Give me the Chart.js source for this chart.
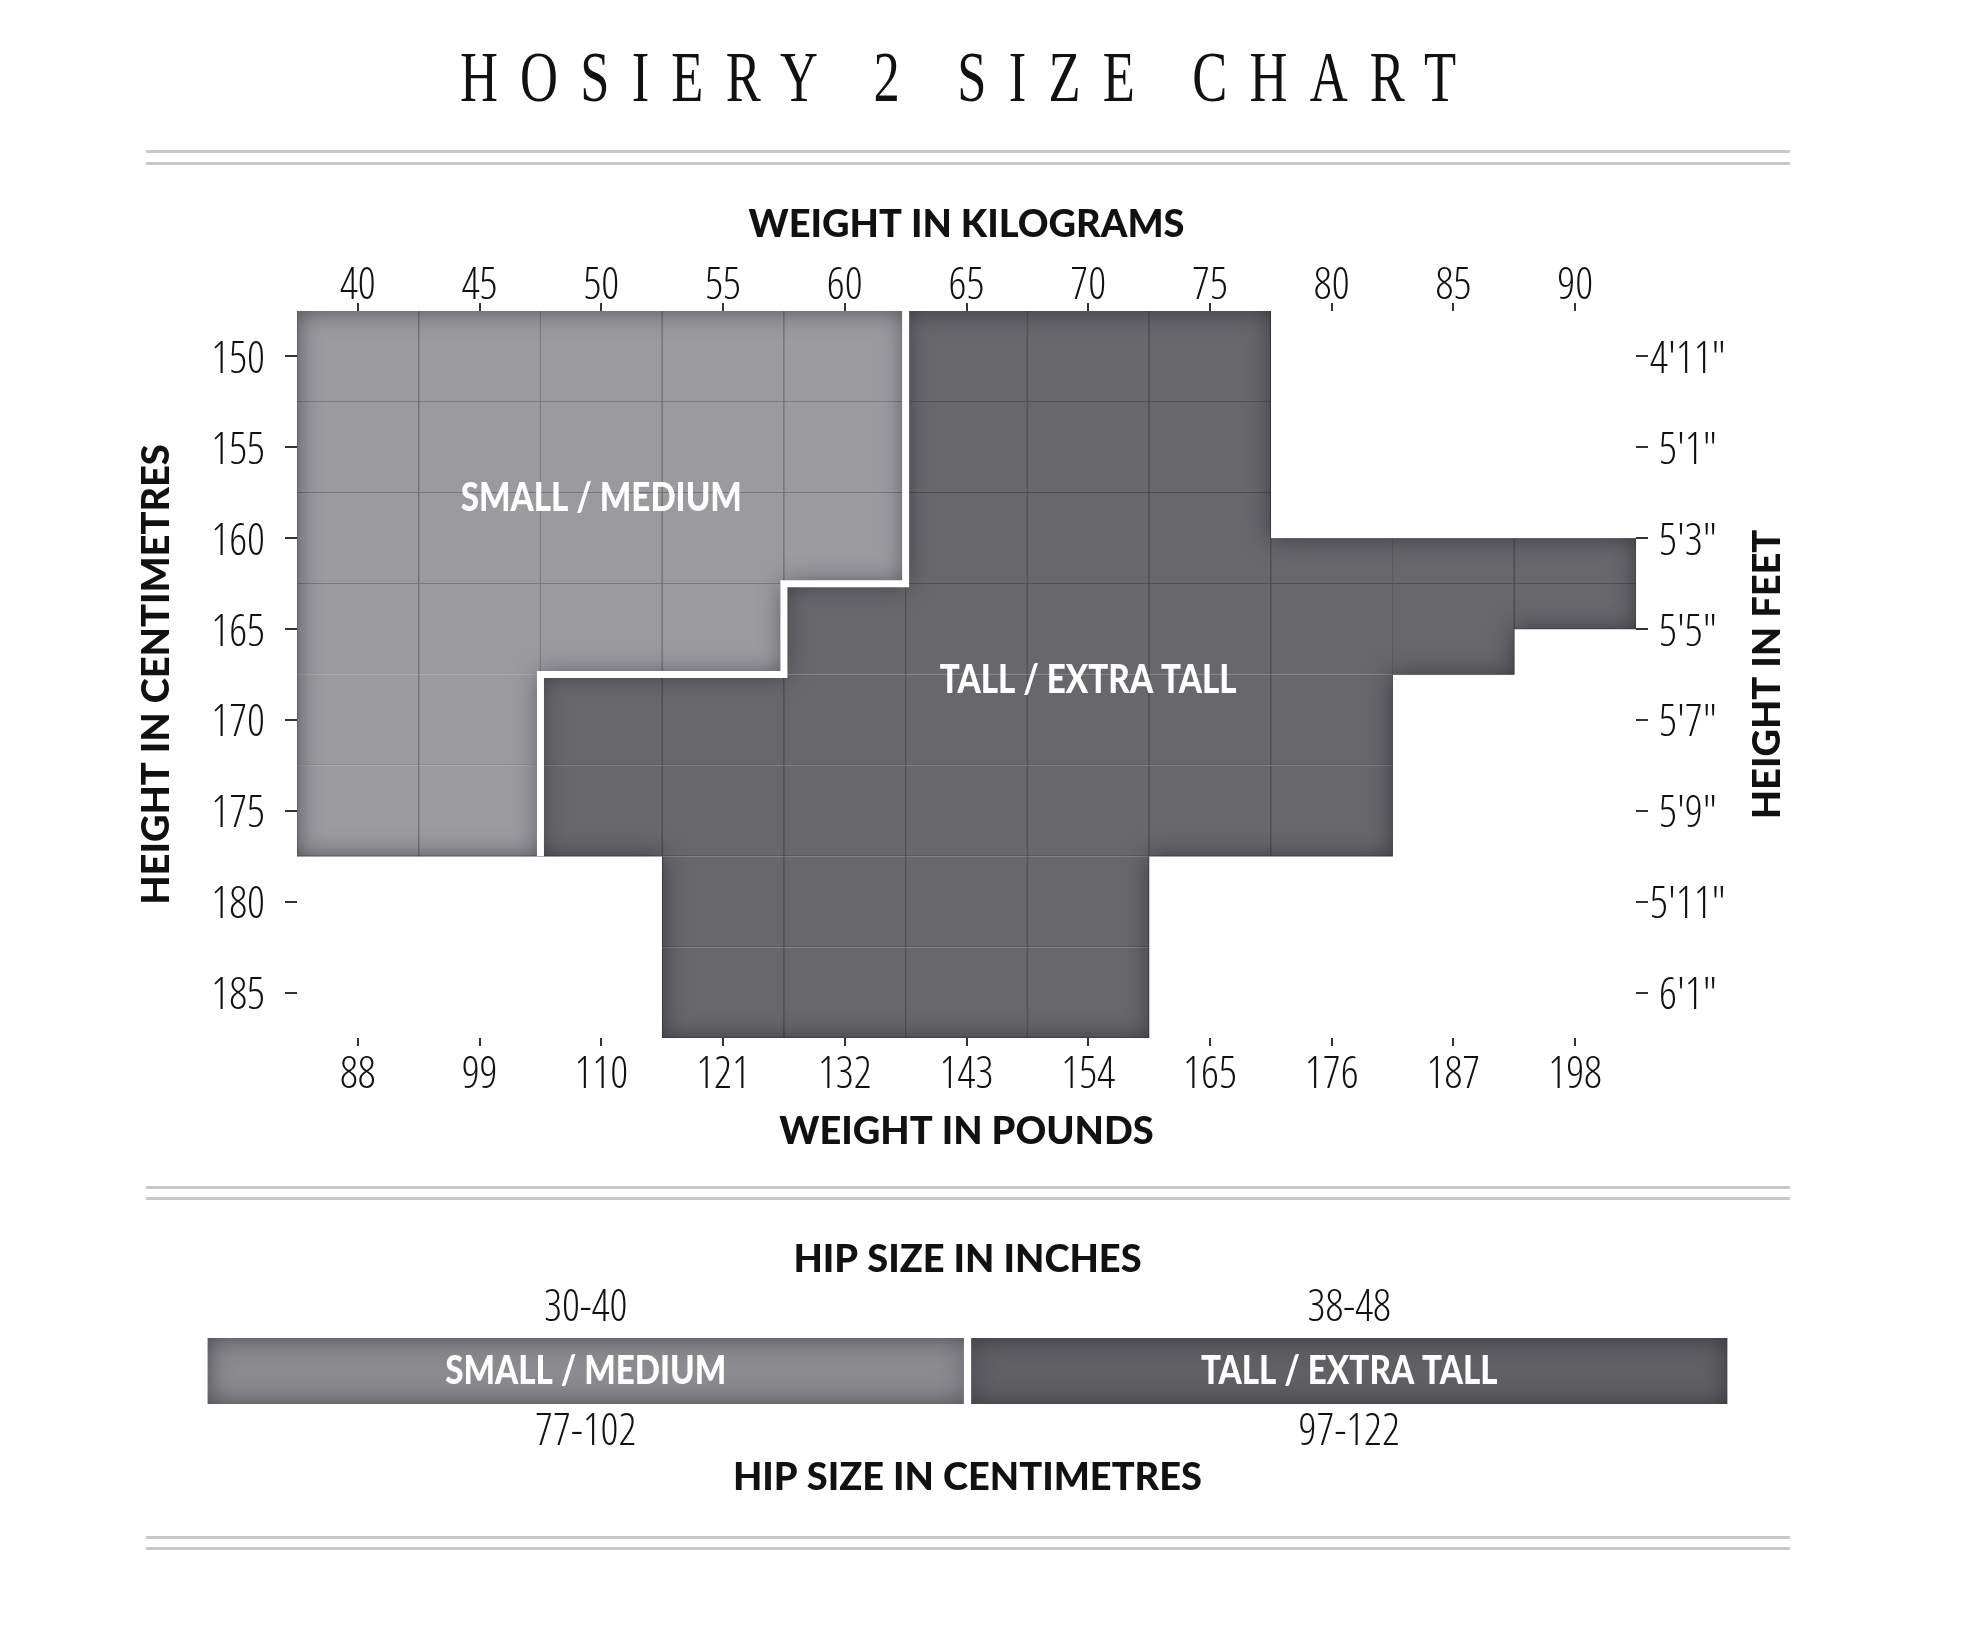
<!DOCTYPE html>
<html>
<head>
<meta charset="utf-8">
<title>Hosiery 2 Size Chart</title>
<script src="https://cdn.jsdelivr.net/npm/chart.js@4.4.1/dist/chart.umd.min.js"></script>
<style>
  html, body { margin: 0; padding: 0; background: #fff; }
  #page { position: relative; width: 1986px; height: 1650px; overflow: hidden; }
  #title {
    position: absolute; left: 0; top: 42px; width: 1916px; padding-left: 30px; box-sizing: border-box;
    text-align: center; white-space: nowrap; color: #111;
    font-family: 'Liberation Serif', 'DejaVu Serif', serif; font-size: 71px; line-height: 71px; letter-spacing: 30px;
    transform: scaleX(0.74); transform-origin: 958px 0;
  }
  .rule { position: absolute; left: 146px; width: 1644px; height: 3px; background: #c8c8c8; }
  canvas { position: absolute; left: 0; }
</style>
</head>
<body>
<div id="page">
  <div id="title">HOSIERY 2 SIZE CHART</div>
  <div class="rule" style="top:150px"></div>
  <div class="rule" style="top:162px"></div>
  <canvas id="sizeChart" width="1986" height="1000" style="top:180px"></canvas>
  <div class="rule" style="top:1186px"></div>
  <div class="rule" style="top:1197px"></div>
  <canvas id="hipChart" width="1986" height="330" style="top:1200px"></canvas>
  <div class="rule" style="top:1536px"></div>
  <div class="rule" style="top:1547px"></div>
</div>
<script>
// weight columns: kg on top, lb underneath
const kgLabels = ['40', '45', '50', '55', '60', '65', '70', '75', '80', '85', '90'];
const lbLabels = ['88', '99', '110', '121', '132', '143', '154', '165', '176', '187', '198'];
// height rows: cm on the left, feet on the right
const cmTicks = [150, 155, 160, 165, 170, 175, 180, 185];
const ftLabels = ['4\'11"', '5\'1"', '5\'3"', '5\'5"', '5\'7"', '5\'9"', '5\'11"', '6\'1"'];

// height span (cm) each size covers in every weight column, null = none
const smallMediumCm = [[147.5, 177.5], [147.5, 177.5], [147.5, 167.5], [147.5, 167.5], [147.5, 162.5],
  null, null, null, null, null, null];
const tallExtraTallCm = [null, null, [167.5, 177.5], [167.5, 187.5], [162.5, 187.5], [147.5, 187.5],
  [147.5, 187.5], [147.5, 177.5], [160, 177.5], [160, 167.5], [160, 165]];

// white line between the two sizes, corners as [kg, cm]
const sizeBoundary = [[62.5, 147.5], [62.5, 162.5], [57.5, 162.5], [57.5, 167.5], [47.5, 167.5], [47.5, 177.5]];

// size names inside the chart, [kg, cm]
const sizeNames = ['SMALL / MEDIUM', 'TALL / EXTRA TALL'];
const sizeNameAt = [[50, 157.8], [70, 167.8]];

// hip table
const hipSizes = ['SMALL / MEDIUM', 'TALL / EXTRA TALL'];
const hipInches = ['30-40', '38-48'];
const hipCm = ['77-102', '97-122'];
const hipBand = [1, 1];

const NUM_FONT = "'Open Sans', 'DejaVu Sans', sans-serif";
const BOLD_FONT = "Lato, 'Liberation Sans', sans-serif";
const INK = '#111';

// split a column's span into 5 cm cells so every cell gets its own outline
function toCells(spans) {
  const cells = [];
  spans.forEach((span, i) => {
    if (!span) return;
    let top = span[0];
    while (top < span[1]) {
      const next = Math.min(span[1], (Math.floor((top - 147.5) / 5) + 1) * 5 + 147.5);
      cells.push({ x: kgLabels[i], y: [top, next] });
      top = next;
    }
  });
  return cells;
}

// darkened inner edge round each size area
const innerShadow = {
  id: 'innerShadow',
  afterDatasetDraw(chart, args) {
    if (args.meta.type !== 'bar') return;
    const ctx = chart.ctx;
    const region = new Path2D();
    args.meta.data.forEach(bar => {
      const p = bar.getProps(['x', 'y', 'base', 'width'], true);
      region.rect(p.x - p.width / 2, Math.min(p.y, p.base), p.width, Math.abs(p.base - p.y));
    });
    const outside = new Path2D();
    outside.rect(-50, -50, chart.width + 100, chart.height + 100);
    outside.addPath(region);
    ctx.save();
    ctx.clip(region);
    ctx.shadowColor = 'rgba(20,20,25,0.55)';
    ctx.shadowBlur = 24;
    ctx.fillStyle = '#000';
    ctx.fill(outside, 'evenodd');
    ctx.restore();
  }
};

function drawName(ctx, text, x, y) {
  ctx.save();
  ctx.translate(x, y);
  ctx.scale(0.85, 1);
  ctx.fillText(text, 0, 0);
  ctx.restore();
}

const chartText = {
  id: 'chartText',
  afterDatasetsDraw(chart) {
    const { ctx, scales } = chart;
    ctx.save();
    ctx.textAlign = 'center';
    ctx.textBaseline = 'middle';
    ctx.fillStyle = '#fff';
    ctx.font = '900 39px ' + BOLD_FONT;
    sizeNames.forEach((name, i) => {
      drawName(ctx, name, scales.xLin.getPixelForValue(sizeNameAt[i][0]), scales.y.getPixelForValue(sizeNameAt[i][1]));
    });
    // right axis title, reading upwards like the left one
    const ft = scales.yFt;
    ctx.fillStyle = INK;
    ctx.font = '900 38px ' + BOLD_FONT;
    ctx.translate(ft.right - 218, (ft.top + ft.bottom) / 2);
    ctx.rotate(-Math.PI / 2);
    ctx.fillText('HEIGHT IN FEET', 0, 0);
    ctx.restore();
  }
};

const tickFont = { family: NUM_FONT, size: 44, weight: '300 condensed', lineHeight: 1 };
const titleFont = { family: BOLD_FONT, size: 38, weight: '900', lineHeight: 1 };
const sideFont = { family: BOLD_FONT, size: 38, weight: '900', lineHeight: 1 };
const xGrid = { drawOnChartArea: false, drawTicks: true, tickLength: 8, color: '#333', lineWidth: 2, offset: false };
const yGrid = { drawOnChartArea: false, drawTicks: true, tickLength: 12, color: '#333', lineWidth: 2 };
const cmTickList = s => { s.ticks = cmTicks.map(v => ({ value: v })); };

new Chart(document.getElementById('sizeChart'), {
  type: 'bar',
  data: {
    labels: kgLabels,
    datasets: [
      {
        type: 'line', label: 'boundary', order: 0,
        data: sizeBoundary.map(p => ({ x: p[0], y: p[1] })),
        xAxisID: 'xLin', yAxisID: 'y',
        borderColor: '#fff', borderWidth: 7, borderCapStyle: 'butt', borderJoinStyle: 'miter',
        pointRadius: 0, tension: 0, fill: false
      },
      {
        label: sizeNames[0], order: 1, data: toCells(smallMediumCm),
        xAxisID: 'xKg', yAxisID: 'y', grouped: false, barPercentage: 1, categoryPercentage: 1,
        backgroundColor: '#9b9a9f', borderColor: '#727176', borderWidth: 1
      },
      {
        label: sizeNames[1], order: 2, data: toCells(tallExtraTallCm),
        xAxisID: 'xKg', yAxisID: 'y', grouped: false, barPercentage: 1, categoryPercentage: 1,
        backgroundColor: '#68676c', borderColor: '#4d4c51', borderWidth: 1
      }
    ]
  },
  options: {
    responsive: false,
    animation: false,
    events: [],
    layout: { padding: 0 },
    plugins: { legend: { display: false }, tooltip: { enabled: false } },
    scales: {
      xKg: {
        type: 'category', position: 'top', offset: true, grid: xGrid, border: { display: false },
        ticks: { font: tickFont, color: INK, padding: -5, maxRotation: 0, autoSkip: false },
        title: { display: true, text: 'WEIGHT IN KILOGRAMS', font: titleFont, color: INK, padding: { top: 26, bottom: 0 } },
        afterFit: s => { s.height = 131; }
      },
      xLb: {
        type: 'category', position: 'bottom', labels: lbLabels, offset: true, grid: xGrid, border: { display: false },
        ticks: { font: tickFont, color: INK, padding: 7, maxRotation: 0, autoSkip: false },
        title: { display: true, text: 'WEIGHT IN POUNDS', font: titleFont, color: INK, padding: { top: 0, bottom: 29 } },
        afterFit: s => { s.height = 142; }
      },
      xLin: { type: 'linear', display: false, min: 37.5, max: 92.5, offset: false },
      y: {
        type: 'linear', position: 'left', reverse: true, min: 147.5, max: 187.5,
        grid: yGrid, border: { display: false }, afterBuildTicks: cmTickList,
        ticks: { font: tickFont, color: INK, padding: 20, labelOffset: 4, autoSkip: false },
        title: { display: true, text: 'HEIGHT IN CENTIMETRES', font: sideFont, color: INK, padding: { top: 138, bottom: 0 } },
        afterFit: s => { s.width = 297; }
      },
      yFt: {
        type: 'linear', position: 'right', reverse: true, min: 147.5, max: 187.5,
        grid: yGrid, border: { display: false }, afterBuildTicks: cmTickList,
        ticks: { font: tickFont, color: INK, padding: 2, labelOffset: 4, crossAlign: 'center', autoSkip: false, callback: (v, i) => ftLabels[i] },
        afterFit: s => { s.width = 350; }
      }
    }
  },
  plugins: [innerShadow, chartText]
});

const hipText = {
  id: 'hipText',
  afterDatasetsDraw(chart) {
    const { ctx } = chart;
    ctx.save();
    ctx.textAlign = 'center';
    ctx.textBaseline = 'middle';
    ctx.fillStyle = '#fff';
    ctx.font = '900 39px ' + BOLD_FONT;
    chart.getDatasetMeta(0).data.forEach((bar, i) => {
      const p = bar.getProps(['x', 'y', 'base'], true);
      drawName(ctx, hipSizes[i], p.x, (p.y + p.base) / 2);
    });
    ctx.restore();
  }
};

new Chart(document.getElementById('hipChart'), {
  type: 'bar',
  data: {
    labels: hipSizes,
    datasets: [{
      label: 'hip', data: hipBand, xAxisID: 'xIn', yAxisID: 'y',
      backgroundColor: ['#8c8b90', '#616065'], borderWidth: 0,
      barPercentage: 0.99, categoryPercentage: 1
    }]
  },
  options: {
    responsive: false,
    animation: false,
    events: [],
    layout: { padding: { left: 204, right: 255, top: 0, bottom: 0 } },
    plugins: { legend: { display: false }, tooltip: { enabled: false } },
    scales: {
      xIn: {
        type: 'category', position: 'top', labels: hipInches, offset: true,
        grid: { display: false, drawTicks: false }, border: { display: false },
        ticks: { font: tickFont, color: INK, padding: 7.5, maxRotation: 0 },
        title: { display: true, text: 'HIP SIZE IN INCHES', font: titleFont, color: INK, padding: { top: 41, bottom: 0 } },
        afterFit: s => { s.height = 138; }
      },
      xCm: {
        type: 'category', position: 'bottom', labels: hipCm, offset: true,
        grid: { display: false, drawTicks: false }, border: { display: false },
        ticks: { font: tickFont, color: INK, padding: 6, maxRotation: 0 },
        title: { display: true, text: 'HIP SIZE IN CENTIMETRES', font: titleFont, color: INK, padding: { top: 0, bottom: 33 } },
        afterFit: s => { s.height = 126; }
      },
      y: { display: false, min: 0, max: 1 }
    }
  },
  plugins: [innerShadow, hipText]
});
</script>
</body>
</html>
